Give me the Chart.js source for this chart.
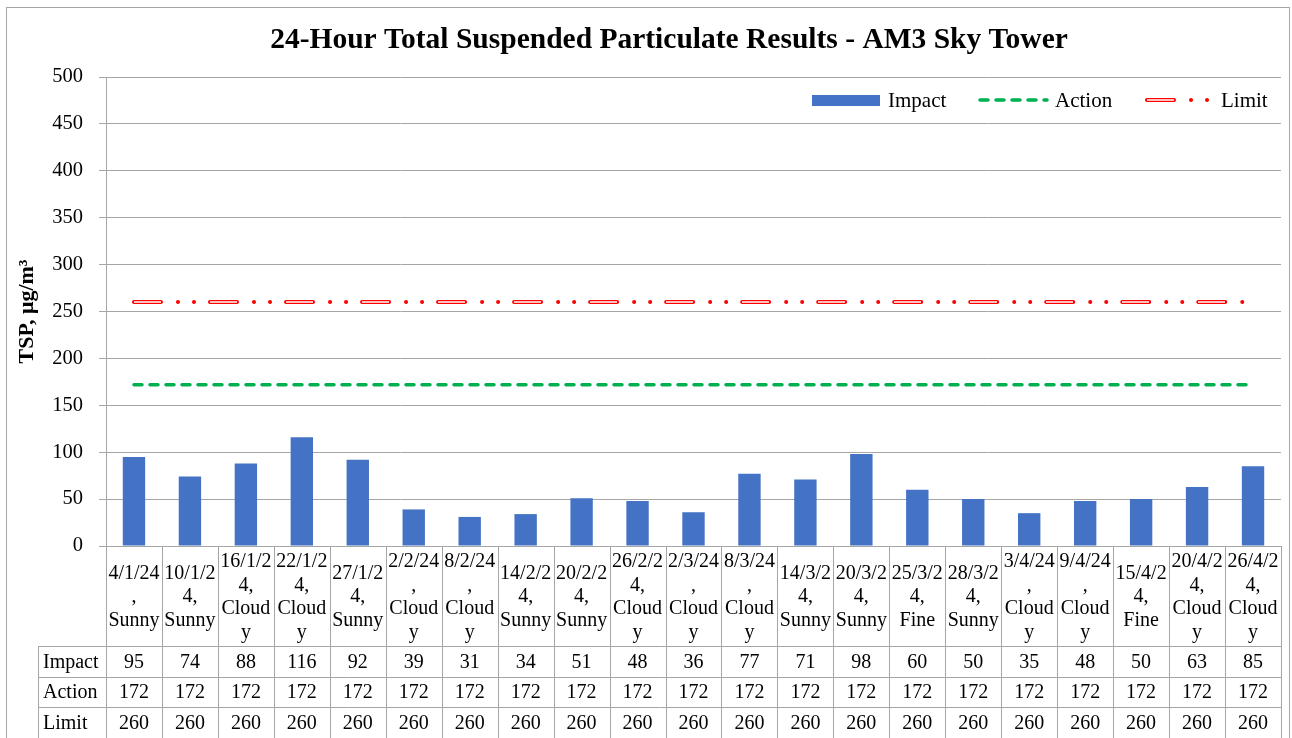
<!DOCTYPE html>
<html>
<head>
<meta charset="utf-8">
<script src="https://cdn.jsdelivr.net/npm/chart.js@4/dist/chart.umd.min.js"></script>
<style>
  html, body { margin: 0; padding: 0; background: #fff; }
  canvas { display: block; }
</style>
</head>
<body>
<canvas id="tspChart" width="1292" height="738"></canvas>
<script>
// ---------- data ----------
const categories = [
    "4/1/24, Sunny", "10/1/24, Sunny", "16/1/24, Cloudy", "22/1/24, Cloudy",
    "27/1/24, Sunny", "2/2/24, Cloudy", "8/2/24, Cloudy", "14/2/24, Sunny",
    "20/2/24, Sunny", "26/2/24, Cloudy", "2/3/24, Cloudy", "8/3/24, Cloudy",
    "14/3/24, Sunny", "20/3/24, Sunny", "25/3/24, Fine", "28/3/24, Sunny",
    "3/4/24, Cloudy", "9/4/24, Cloudy", "15/4/24, Fine", "20/4/24, Cloudy",
    "26/4/24, Cloudy"
];
const impactValues = [95, 74, 88, 116, 92, 39, 31, 34, 51, 48, 36, 77, 71, 98, 60, 50, 35, 48, 50, 63, 85];
const actionValues = [172, 172, 172, 172, 172, 172, 172, 172, 172, 172, 172, 172, 172, 172, 172, 172, 172, 172, 172, 172, 172];
const limitValues  = [260, 260, 260, 260, 260, 260, 260, 260, 260, 260, 260, 260, 260, 260, 260, 260, 260, 260, 260, 260, 260];
const seriesNames = ["Impact", "Action", "Limit"];

const chartTitle = "24-Hour Total Suspended Particulate Results - AM3 Sky Tower";
const yTitle = "TSP, \u03BCg/m\u00B3";

const SERIF = "'Liberation Serif', 'Times New Roman', serif";
const GRID = "#a6a6a6";
const BLUE = "#4472c4";
const GREEN = "#00b050";
const RED = "#ff0000";

// dash patterns (round caps)
const actionDash = [8, 8];
const limitDash = [27, 17, 0.01, 16, 0.01, 16];
const limitInnerDash = [27, 49];

/* ---------- helpers ---------- */
function wrapLabel(ctx, text, maxW) {
    const words = text.split(" ");
    const lines = [];
    let cur = "";
    for (const w of words) {
        const t = cur ? cur + " " + w : w;
        if (ctx.measureText(t).width <= maxW) { cur = t; continue; }
        if (cur) { lines.push(cur); cur = ""; }
        let piece = "";
        for (const ch of w) {
            if (piece && ctx.measureText(piece + ch).width > maxW) {
                lines.push(piece);
                piece = ch;
            } else {
                piece += ch;
            }
        }
        cur = piece;
    }
    if (cur) lines.push(cur);
    return lines;
}

function hLine(ctx, x1, x2, y) {
    ctx.beginPath();
    ctx.moveTo(x1, Math.round(y) + 0.5);
    ctx.lineTo(x2, Math.round(y) + 0.5);
    ctx.stroke();
}
function vLine(ctx, x, y1, y2) {
    ctx.beginPath();
    ctx.moveTo(Math.round(x) + 0.5, y1);
    ctx.lineTo(Math.round(x) + 0.5, y2);
    ctx.stroke();
}

/* ---------- frame, title, legend, data table ---------- */
const excelBits = {
    id: "excelBits",
    beforeDraw(chart) {
        const ctx = chart.ctx;
        ctx.save();
        ctx.fillStyle = "#fff";
        ctx.fillRect(0, 0, chart.width, chart.height);
        ctx.strokeStyle = GRID;
        ctx.lineWidth = 1;
        ctx.strokeRect(6.5, 7.5, 1283, 760);
        ctx.restore();
    },
    afterDraw(chart) {
        const ctx = chart.ctx;
        const x = chart.scales.x;
        const area = chart.chartArea;
        ctx.save();

        // title
        ctx.fillStyle = "#000";
        ctx.font = "bold 29.5px " + SERIF;
        ctx.textAlign = "center";
        ctx.textBaseline = "middle";
        ctx.fillText(chartTitle, 669, 40);

        // legend
        ctx.font = "21px " + SERIF;
        ctx.textAlign = "left";
        ctx.fillStyle = BLUE;
        ctx.fillRect(812, 95, 68, 11);
        ctx.fillStyle = "#000";
        ctx.fillText(seriesNames[0], 888, 101);

        ctx.lineCap = "round";
        ctx.strokeStyle = GREEN;
        ctx.lineWidth = 3.5;
        ctx.setLineDash(actionDash);
        ctx.beginPath(); ctx.moveTo(980, 100); ctx.lineTo(1047, 100); ctx.stroke();
        ctx.fillText(seriesNames[1], 1055, 101);

        ctx.strokeStyle = RED;
        ctx.lineWidth = 4;
        ctx.setLineDash(limitDash);
        ctx.beginPath(); ctx.moveTo(1147, 100); ctx.lineTo(1212, 100); ctx.stroke();
        ctx.lineCap = "butt";
        ctx.strokeStyle = "#fff";
        ctx.lineWidth = 1.5;
        ctx.setLineDash(limitInnerDash);
        ctx.beginPath(); ctx.moveTo(1147, 100); ctx.lineTo(1212, 100); ctx.stroke();
        ctx.setLineDash([]);
        ctx.fillStyle = "#000";
        ctx.fillText(seriesNames[2], 1221, 101);

        // data table under the axis
        const half = (x.getPixelForValue(1) - x.getPixelForValue(0)) / 2;
        const top = area.bottom;
        const rowTops = [646, 677, 707, 738];
        const leftCol = 38;

        ctx.strokeStyle = GRID;
        ctx.lineWidth = 1;
        hLine(ctx, area.left, area.right, top);
        for (const ry of rowTops) hLine(ctx, leftCol, area.right, ry);
        vLine(ctx, leftCol, rowTops[0], chart.height);
        for (let i = 0; i < categories.length; i++) {
            vLine(ctx, x.getPixelForValue(i) - half, top, chart.height);
        }
        vLine(ctx, area.right, top, chart.height);

        // category header
        ctx.fillStyle = "#000";
        ctx.font = "20px " + SERIF;
        ctx.textAlign = "center";
        ctx.textBaseline = "middle";
        const lh = 23.5;
        const midY = (top + rowTops[0]) / 2 + 1;
        categories.forEach((c, i) => {
            const lines = wrapLabel(ctx, c, half * 2 - 3);
            const y0 = midY - (lines.length - 1) * lh / 2;
            lines.forEach((ln, k) => ctx.fillText(ln, x.getPixelForValue(i), y0 + k * lh));
        });

        // value rows
        const rows = [impactValues, actionValues, limitValues];
        rows.forEach((vals, r) => {
            const cy = (rowTops[r] + rowTops[r + 1]) / 2 + 1;
            ctx.textAlign = "left";
            ctx.fillText(seriesNames[r], leftCol + 5, cy);
            ctx.textAlign = "center";
            vals.forEach((v, i) => ctx.fillText(String(v), x.getPixelForValue(i), cy));
        });

        ctx.restore();
    }
};

/* ---------- chart ---------- */
new Chart(document.getElementById("tspChart"), {
    type: "bar",
    data: {
        labels: categories,
        datasets: [
            {
                label: seriesNames[0],
                data: impactValues,
                backgroundColor: BLUE,
                barPercentage: 0.4,
                categoryPercentage: 1,
                order: 3
            },
            {
                type: "line",
                label: seriesNames[1],
                data: actionValues,
                borderColor: GREEN,
                borderWidth: 3.5,
                borderDash: actionDash,
                borderCapStyle: "round",
                pointRadius: 0,
                order: 2
            },
            {
                type: "line",
                label: seriesNames[2],
                data: limitValues,
                borderColor: RED,
                borderWidth: 4,
                borderDash: limitDash,
                borderCapStyle: "round",
                pointRadius: 0,
                order: 1
            },
            {
                // white core of the double line
                type: "line",
                label: "",
                data: limitValues,
                borderColor: "#fff",
                borderWidth: 1.5,
                borderDash: limitInnerDash,
                borderCapStyle: "butt",
                pointRadius: 0,
                order: 0
            }
        ]
    },
    options: {
        responsive: false,
        devicePixelRatio: 1,
        animation: false,
        layout: { padding: { left: 7, right: 11, top: 77, bottom: 192 } },
        plugins: {
            legend: { display: false },
            title: { display: false },
            tooltip: { enabled: false }
        },
        scales: {
            x: {
                ticks: { display: false },
                grid: { display: false, drawTicks: false },
                border: { display: false },
                afterFit: s => { s.height = 0; }
            },
            y: {
                min: 0,
                max: 500,
                ticks: {
                    stepSize: 50,
                    color: "#000",
                    padding: 16,
                    font: { family: SERIF, size: 20.5 }
                },
                grid: { color: GRID, tickLength: 7, tickColor: GRID },
                border: { color: GRID },
                title: {
                    display: true,
                    text: yTitle,
                    color: "#000",
                    font: { family: SERIF, size: 22, weight: "bold" },
                    padding: { top: 7, bottom: 0 }
                },
                afterFit: s => { s.width = 99; }
            }
        }
    },
    plugins: [excelBits]
});
</script>
</body>
</html>
